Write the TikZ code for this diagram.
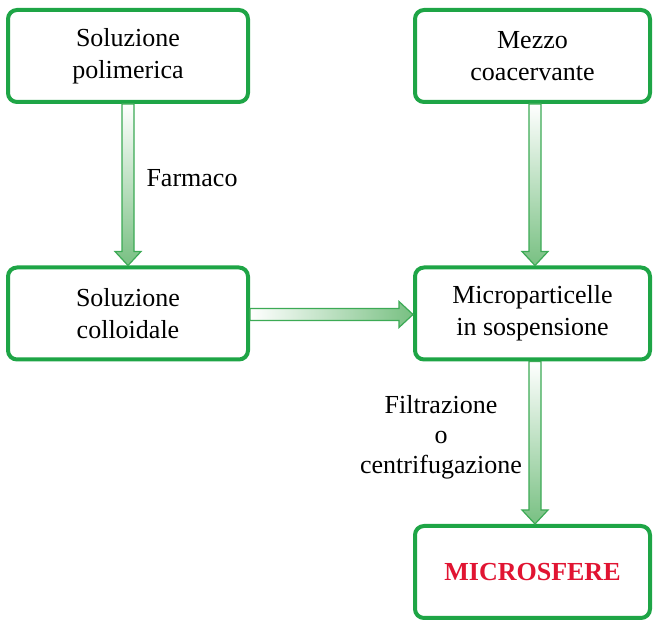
\documentclass[tikz,border=0pt]{standalone}
\usepackage{fontspec}
\setmainfont{Liberation Serif}
\usetikzlibrary{calc}
\definecolor{boxgreen}{RGB}{30,165,70}
\definecolor{arrowgreen}{RGB}{60,170,85}
\definecolor{fillgreen}{RGB}{120,192,130}
\definecolor{sferered}{RGB}{225,20,50}
\tikzset{
  box/.style={draw=boxgreen,line width=4pt,rounded corners=9pt,fill=white,
    minimum width=240pt,minimum height=92pt,align=center,
    font=\fontsize{26}{32}\selectfont},
  rbox/.style={box,minimum width=235pt},
  blockarrow/.style={draw=arrowgreen,line width=1.2pt,line join=miter}
}
% down arrow from #1 to #2
\newcommand\vblock[2]{%
  \path[blockarrow,top color=white,bottom color=fillgreen]
    let \p1=(#1), \p2=(#2) in
    (\x1-6pt,\y1) -- (\x1+6pt,\y1) -- (\x1+6pt,\y2+14pt) -- (\x1+13pt,\y2+14pt)
    -- (\x1,\y2) -- (\x1-13pt,\y2+14pt) -- (\x1-6pt,\y2+14pt) -- cycle;}
% right arrow from #1 to #2
\newcommand\hblock[2]{%
  \path[blockarrow,left color=white,right color=fillgreen]
    let \p1=(#1), \p2=(#2) in
    (\x1,\y1+6pt) -- (\x1,\y1-6pt) -- (\x2-14pt,\y1-6pt) -- (\x2-14pt,\y1-13pt)
    -- (\x2,\y1) -- (\x2-14pt,\y1+13pt) -- (\x2-14pt,\y1+6pt) -- cycle;}
\begin{document}
\begin{tikzpicture}[x=1pt,y=1pt]
\useasboundingbox (0,0) rectangle (654,623);
\node[box] (polim) at (128,567) {Soluzione\\polimerica};
\node[rbox] (mezzo) at (532.5,567) {Mezzo\\coacervante};
\node[box] (colloid) at (128,309.5) {Soluzione\\colloidale};
\node[rbox] (micro) at (532.5,309.5) {Microparticelle\\in sospensione};
\node[rbox,font=\fontsize{26}{32}\selectfont\bfseries,text=sferered] (sfere) at (532.5,51) {MICROSFERE};

\vblock{polim.south}{colloid.north}
\vblock{[xshift=2.5pt]mezzo.south}{[xshift=2.5pt]micro.north}
\hblock{[yshift=-1pt]colloid.east}{[yshift=-1pt]micro.west}
\vblock{[xshift=2.5pt]micro.south}{[xshift=2.5pt]sfere.north}

\node[anchor=west,font=\fontsize{26}{32}\selectfont] (farmaco) at (143,445) {Farmaco};
\node[align=center,font=\fontsize{26}{30}\selectfont] (filtr) at (441,186) {Filtrazione\\o\\centrifugazione};
\end{tikzpicture}
\end{document}
